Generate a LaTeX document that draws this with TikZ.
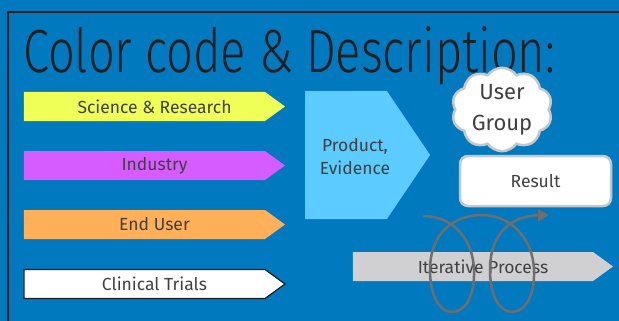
\documentclass[tikz,border=0pt]{standalone}
\usepackage{fontspec}
\setmainfont{Fira Sans}
\newfontfamily\thinfont{Fira Sans Light}[FakeStretch=0.77]
\usepackage{tikz}
\usetikzlibrary{shapes.symbols,arrows.meta}
\definecolor{slideblue}{RGB}{0,121,190}
\definecolor{framegray}{RGB}{30,30,30}
\definecolor{sciyellow}{RGB}{240,255,88}
\definecolor{indpurple}{RGB}{214,92,255}
\definecolor{userorange}{RGB}{255,176,88}
\definecolor{prodblue}{RGB}{92,203,255}
\definecolor{itergray}{RGB}{208,208,210}
\definecolor{coilgray}{RGB}{110,110,110}
\definecolor{textgray}{RGB}{64,64,64}
\definecolor{edgegray}{RGB}{200,200,200}
\tikzset{
	labelfont/.style={text=textgray, font=\fontsize{17.5}{23}\selectfont},
	tagarrow/.style={labelfont, shape=signal, signal to=east, signal pointer angle=72, minimum width=261pt, minimum height=29pt, inner sep=0pt},
	productarrow/.style={shape=signal, signal to=east, signal pointer angle=112, minimum width=125pt, minimum height=128pt, inner sep=0pt, fill=prodblue},
	whitebox/.style={labelfont, fill=white, draw=edgegray, line width=2.5pt},
}
% pushes a tag's text past the pointer
\newcommand{\tagtext}[1]{\hspace*{20pt}#1}

\begin{document}
\begin{tikzpicture}[x=1pt, y=-1pt]
			%%%%% START %%%%%
			
			\fill[slideblue] (0, 0) rectangle (619, 321);
			\useasboundingbox (0, 0) rectangle (619, 321);
			\draw[line width=2pt, color=framegray] (8, 330) -- (8, 12) -- (630, 12);
			
			\node[anchor=base west, inner sep=0pt, text=framegray, font=\thinfont\fontsize{61}{64}\selectfont] (title) at (23, 73) {Color code \& Description:};
			
			\node[tagarrow, fill=sciyellow] (science) at (144.5, 106.5) {\tagtext{Science \& Research}};
			\node[tagarrow, fill=indpurple] (industry) at (144.5, 165.5) {\tagtext{Industry}};
			\node[tagarrow, fill=userorange] (enduser) at (144.5, 224.5) {\tagtext{End User}};
			\node[tagarrow, fill=white, draw=framegray, line width=1.2pt] (clinical) at (144.5, 284) {\tagtext{Clinical Trials}};
			
			\node[productarrow] (product) at (346, 155) {};
			\node[labelfont, align=center] (productText) at (355, 157) {Product,\\Evidence};
			
			\node[whitebox, shape=cloud, cloud puffs=10, cloud puff arc=110, aspect=1.3, minimum width=97pt, minimum height=76pt, inner sep=0pt, align=center, font=\fontsize{22}{31}\selectfont] (usergroup) at (502, 109.5) {User\\Group};
			\node[whitebox, rounded corners=8pt, minimum width=151pt, minimum height=50pt] (result) at (535.5, 181) {Result};
			
			\node[tagarrow, fill=itergray, minimum width=260pt] (iterative) at (473, 266.5) {\tagtext{Iterative Process}};
			
			\draw[line width=2.5pt, color=coilgray, -{Triangle[length=11pt, width=12pt]}] (423, 216)
				.. controls (452, 216) and (473, 238) .. (474, 270)
				.. controls (475, 298) and (464, 312) .. (452, 312)
				.. controls (439, 312) and (430, 295) .. (430, 270)
				.. controls (430, 232) and (455, 215) .. (482, 215)
				.. controls (510, 215) and (533, 238) .. (534, 270)
				.. controls (535, 298) and (524, 312) .. (512, 312)
				.. controls (499, 312) and (490, 295) .. (490, 270)
				.. controls (490, 232) and (512, 216) .. (549, 215);
			
			%%%%% END %%%%%
\end{tikzpicture}
\end{document}
